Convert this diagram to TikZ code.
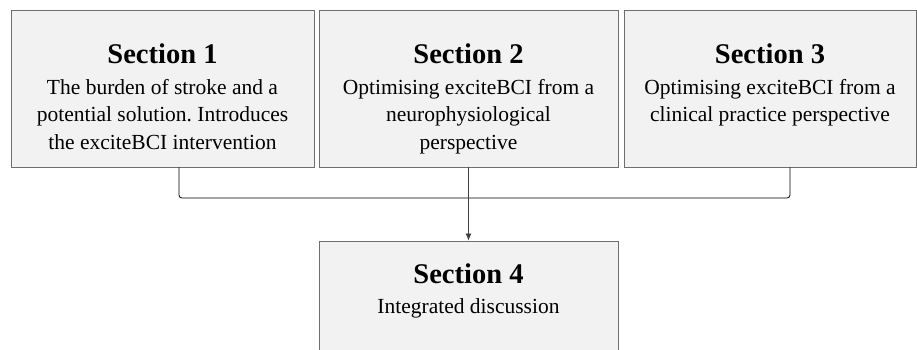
\documentclass[tikz,border=0pt]{standalone}
\usepackage{fontspec}
\setmainfont{Liberation Serif}
\usetikzlibrary{arrows.meta,calc}
\definecolor{boxfill}{HTML}{F2F2F2}
\definecolor{boxline}{HTML}{6E6E6E}
\frenchspacing
\begin{document}
\begin{tikzpicture}[x=1pt,y=-1pt,
  secbox/.style={draw=boxline,fill=boxfill,line width=0.9pt,rectangle,inner sep=0pt},
  sectitle/.style={font=\fontsize{28.5}{32}\selectfont\bfseries,inner sep=0pt,anchor=base},
  secbody/.style={font=\fontsize{21.5}{27.5}\selectfont,align=center,inner sep=0pt,anchor=north},
  link/.style={draw=black,line width=0.8pt}]
  \useasboundingbox (0,0) rectangle (917,349);
  \clip (0,0) rectangle (917,349);
  % the four section boxes
  \node[secbox,minimum width=303pt,minimum height=157pt] (s1) at (162.5,88.5) {};
  \node[secbox,minimum width=299pt,minimum height=157pt] (s2) at (468.5,88.5) {};
  \node[secbox,minimum width=292pt,minimum height=157pt] (s3) at (770,88.5) {};
  \node[secbox,minimum width=299pt,minimum height=160pt] (s4) at (468.5,321) {};
  % headings
  \node[sectitle] (t1) at (162.5,63) {Section 1};
  \node[sectitle] (t2) at (468.5,63) {Section 2};
  \node[sectitle] (t3) at (770,63) {Section 3};
  \node[sectitle] (t4) at (468.5,283) {Section 4};
  % descriptions
  \node[secbody] (b1) at (162.5,79) {The burden of stroke and a\\potential solution. Introduces\\the exciteBCI intervention};
  \node[secbody] (b2) at (468.5,79) {Optimising exciteBCI from a\\neurophysiological\\perspective};
  \node[secbody] (b3) at (770,79) {Optimising exciteBCI from a\\clinical practice perspective};
  \node[secbody] (b4) at (468.5,298) {Integrated discussion};
  % connectors
  \coordinate (j) at (468.5,198);
  \draw[link,rounded corners=3pt] ([xshift=16.5pt]s1.south) |- (j) -| ([xshift=20pt]s3.south);
  \draw[link,draw=black!75,-{Latex[length=7pt,width=6pt]}] (s2.south) -- (s4.north);
\end{tikzpicture}
\end{document}
